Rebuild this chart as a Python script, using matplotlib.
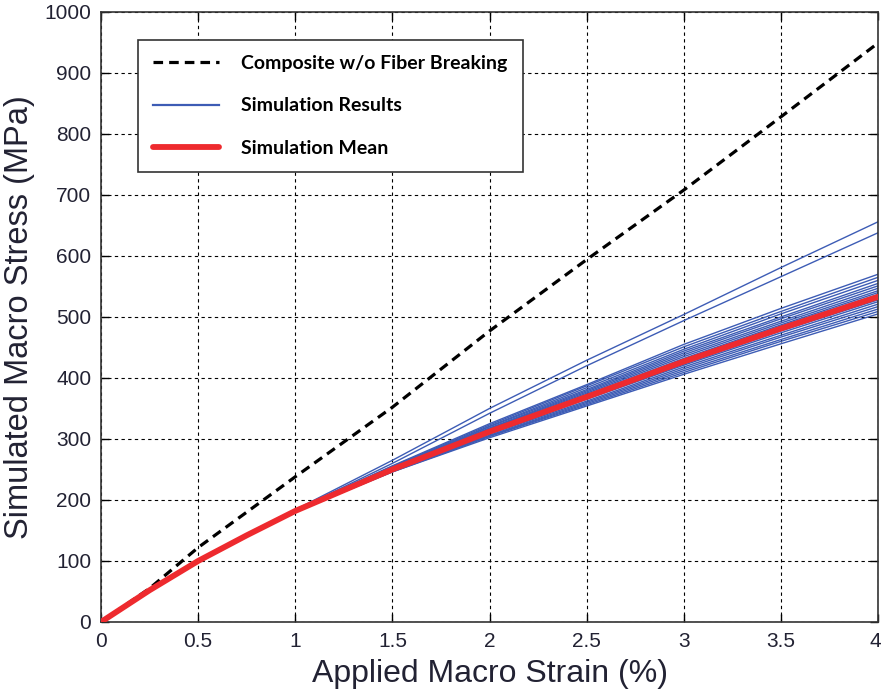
import matplotlib.pyplot as plt
import matplotlib.transforms as mtransforms

# strain knots (%)
strain = [0, 0.25, 0.5, 0.75, 1.0, 1.5, 2.0, 2.5, 3.0, 3.5, 4.0]

# composite without fiber breaking
no_break = [0, 55, 122, 180, 238, 352, 477, 594, 708, 828, 949]

# simulation mean
sim_mean = [0, 52, 100, 142, 182, 250, 312, 369, 427, 481, 533]

# individual simulation results (MPa)
sim_runs = [
    [0, 52, 100, 142, 181, 246, 302, 354, 406, 456, 505],
    [0, 52, 100, 142, 181, 246, 304, 356, 409, 460, 509],
    [0, 52, 100, 142, 181, 247, 305, 358, 412, 463, 513],
    [0, 52, 100, 142, 181, 248, 306, 360, 415, 467, 517],
    [0, 52, 100, 142, 182, 248, 308, 362, 418, 470, 521],
    [0, 52, 100, 142, 182, 249, 309, 365, 421, 474, 525],
    [0, 52, 100, 142, 182, 249, 310, 366, 423, 477, 528],
    [0, 52, 100, 142, 182, 250, 311, 368, 426, 479, 531],
    [0, 52, 100, 142, 182, 250, 312, 370, 428, 482, 534],
    [0, 52, 100, 142, 182, 251, 313, 371, 430, 485, 537],
    [0, 52, 100, 142, 182, 251, 314, 373, 432, 487, 540],
    [0, 52, 100, 142, 182, 252, 316, 375, 435, 490, 543],
    [0, 52, 100, 142, 183, 252, 317, 377, 438, 493, 547],
    [0, 52, 100, 142, 183, 253, 318, 379, 441, 497, 551],
    [0, 52, 100, 142, 183, 253, 320, 381, 444, 500, 555],
    [0, 52, 100, 142, 183, 254, 321, 384, 447, 505, 560],
    [0, 52, 100, 142, 183, 255, 323, 387, 451, 509, 565],
    [0, 52, 100, 142, 183, 256, 325, 389, 455, 514, 570],
    # two stiffer runs
    [0, 52, 100, 142, 183, 260, 342, 420, 494, 566, 638],
    [0, 52, 100, 142, 184, 265, 350, 429, 504, 581, 656],
]

xtick_vals = [0, 0.5, 1, 1.5, 2, 2.5, 3, 3.5, 4]
xtick_labels = ['0', '0.5', '1', '1.5', '2', '2.5', '3', '3.5', '4']
ytick_vals = list(range(0, 1001, 100))

plt.rcParams['font.family'] = ['Liberation Sans', 'DejaVu Sans']

fig = plt.figure(figsize=(8.82, 6.91), dpi=100)
ax = fig.add_axes([0.1145, 0.0999, 0.8810, 0.8828])

blue = '#3d5cb5'
red = '#ee2a2e'

for i, run in enumerate(sim_runs):
    ax.plot(strain, run, color=blue, lw=1.0,
            label='Simulation Results' if i == 0 else None, zorder=2)
ax.plot(strain, no_break, color='k', lw=2.3, linestyle=(0, (3.0, 1.9)),
        label='Composite w/o Fiber Breaking', zorder=3)
ax.plot(strain, sim_mean, color=red, lw=4.2, solid_capstyle='round',
        label='Simulation Mean', zorder=4)

ax.set_xlim(0, 4)
ax.set_ylim(0, 1000)
ax.set_xticks(xtick_vals)
ax.set_xticklabels(xtick_labels)
ax.set_yticks(ytick_vals)

ax.grid(True, color='k', linestyle=(0, (3, 3)), lw=0.8)
ax.tick_params(direction='in', length=6, width=1, top=True, right=True,
               labelsize=15, labelcolor='#222233', pad=7)
for s in ax.spines.values():
    s.set_color('#333333')
    s.set_linewidth(1.2)

# keep the last x tick label inside the figure
last = ax.get_xticklabels()[-1]
last.set_transform(last.get_transform() +
                   mtransforms.ScaledTranslation(-3 / 100, 0, fig.dpi_scale_trans))

ax.set_xlabel('Applied Macro Strain (%)', fontsize=23, color='#222233', labelpad=6)
ax.set_ylabel('Simulated Macro Stress (MPa)', fontsize=23.5, color='#222233', labelpad=7)

handles, labels = ax.get_legend_handles_labels()
order = [labels.index('Composite w/o Fiber Breaking'),
         labels.index('Simulation Results'),
         labels.index('Simulation Mean')]
leg = ax.legend([handles[i] for i in order], [labels[i] for i in order],
                loc='upper left', bbox_to_anchor=(0.0476, 0.954), borderaxespad=0,
                prop={'family': 'Lato', 'weight': 'bold', 'size': 14},
                handlelength=3.4, handletextpad=1.13, labelspacing=1.3,
                borderpad=0.78, fancybox=False, framealpha=1, edgecolor='#333333')
leg.get_frame().set_linewidth(1.2)
leg.legend_handles[1].set_linewidth(1.6)

fig.savefig('out.png', dpi=100)
